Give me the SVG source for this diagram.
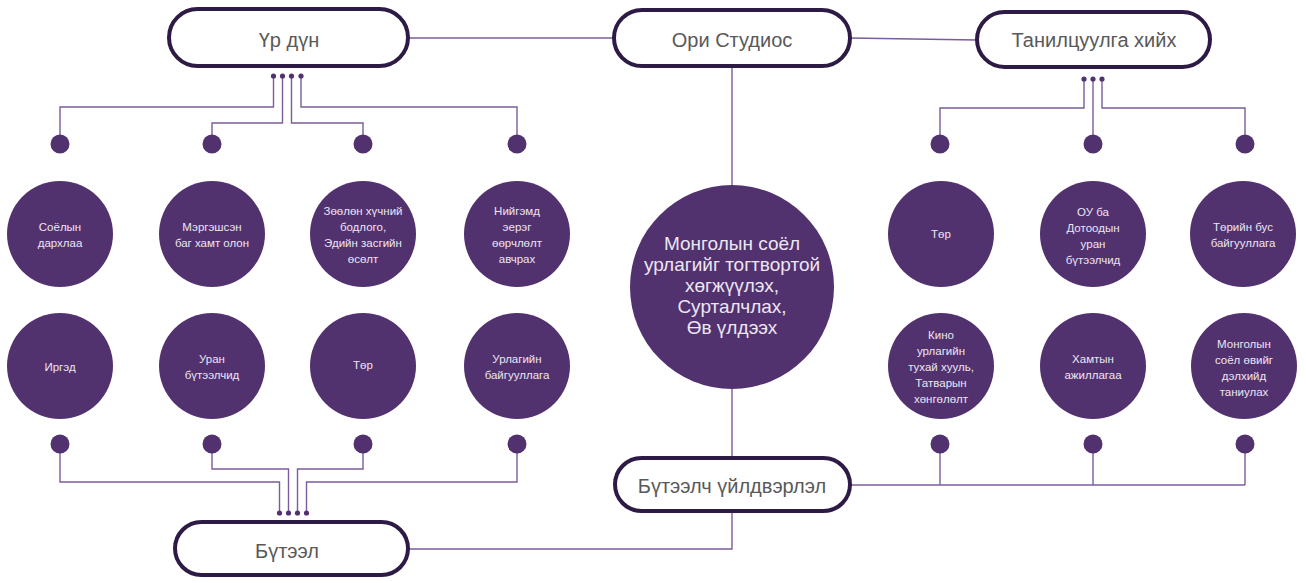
<svg xmlns="http://www.w3.org/2000/svg" width="1306" height="583" viewBox="0 0 1306 583">
<style>
.pill{fill:#fff;stroke:#2d1b45;stroke-width:4}
.pt{font-family:"Liberation Sans",Arial,sans-serif;font-size:20px;fill:#595959;text-anchor:middle;dominant-baseline:central}
.c{fill:#52316f}
.ct{font-family:"Liberation Sans",Arial,sans-serif;font-size:11.5px;fill:#ece6f2;text-anchor:middle;dominant-baseline:central}
.big{font-family:"Liberation Sans",Arial,sans-serif;font-size:19px;fill:#ece6f2;text-anchor:middle;dominant-baseline:central}
.ln{fill:none;stroke:#7b5c9c;stroke-width:1.4}
.d{fill:#52316f}
</style>
<rect width="1306" height="583" fill="#fff"/>
<g id="connectors">
<line class="ln" x1="408" y1="38" x2="614" y2="38"/>
<line class="ln" x1="850" y1="38" x2="977" y2="40"/>
<line class="ln" x1="732" y1="66" x2="732" y2="186"/>
<line class="ln" x1="732" y1="388" x2="732" y2="458"/>
<polyline class="ln" points="732,511 732,549 408,549"/>
<line class="ln" x1="850" y1="485" x2="1245" y2="485"/>
<line class="ln" x1="940" y1="444" x2="940" y2="485"/>
<line class="ln" x1="1093" y1="444" x2="1093" y2="485"/>
<line class="ln" x1="1245" y1="444" x2="1245" y2="485"/>
<!-- Үр дүн -->
<polyline class="ln" points="273.5,76 273.5,107 60,107 60,144"/>
<polyline class="ln" points="282.5,76 282.5,123 212,123 212,144"/>
<polyline class="ln" points="291.5,76 291.5,123 363,123 363,144"/>
<polyline class="ln" points="301,76 301,107 517,107 517,144"/>
<!-- Танилцуулга -->
<polyline class="ln" points="1084,79 1084,108 940,108 940,144"/>
<line class="ln" x1="1093" y1="79" x2="1093" y2="144"/>
<polyline class="ln" points="1102,79 1102,108 1245,108 1245,144"/>
<!-- Бүтээл -->
<polyline class="ln" points="279.5,513 279.5,482 60,482 60,444"/>
<polyline class="ln" points="288.5,513 288.5,469 212,469 212,444"/>
<polyline class="ln" points="297.5,513 297.5,469 363,469 363,444"/>
<polyline class="ln" points="306.5,513 306.5,482 517,482 517,444"/>
<!-- small dots -->
<circle class="d" cx="273.5" cy="76" r="2.6"/>
<circle class="d" cx="282.5" cy="76" r="2.6"/>
<circle class="d" cx="291.5" cy="76" r="2.6"/>
<circle class="d" cx="301" cy="76" r="2.6"/>
<circle class="d" cx="1084" cy="79" r="2.6"/>
<circle class="d" cx="1093" cy="79" r="2.6"/>
<circle class="d" cx="1102" cy="79" r="2.6"/>
<circle class="d" cx="279.5" cy="513" r="2.6"/>
<circle class="d" cx="288.5" cy="513" r="2.6"/>
<circle class="d" cx="297.5" cy="513" r="2.6"/>
<circle class="d" cx="306.5" cy="513" r="2.6"/>
<!-- big dots -->
<circle class="d" cx="60" cy="144" r="9.5"/>
<circle class="d" cx="212" cy="144" r="9.5"/>
<circle class="d" cx="363" cy="144" r="9.5"/>
<circle class="d" cx="517" cy="144" r="9.5"/>
<circle class="d" cx="940" cy="144" r="9.5"/>
<circle class="d" cx="1093" cy="144" r="9.5"/>
<circle class="d" cx="1245" cy="144" r="9.5"/>
<circle class="d" cx="60" cy="444" r="9.5"/>
<circle class="d" cx="212" cy="444" r="9.5"/>
<circle class="d" cx="363" cy="444" r="9.5"/>
<circle class="d" cx="517" cy="444" r="9.5"/>
<circle class="d" cx="940" cy="444" r="9.5"/>
<circle class="d" cx="1093" cy="444" r="9.5"/>
<circle class="d" cx="1245" cy="444" r="9.5"/>
</g>
<g id="ur-dun"><rect class="pill" x="169" y="9" width="239" height="57" rx="28.5"/><text class="pt" x="289" y="40">Үр дүн</text></g>
<g id="ori-studios"><rect class="pill" x="614" y="10" width="236" height="56" rx="28"/><text class="pt" x="732" y="40">Ори Студиос</text></g>
<g id="taniltsuulga"><rect class="pill" x="977" y="12" width="233" height="55" rx="27.5"/><text class="pt" x="1094" y="40">Танилцуулга хийх</text></g>
<g id="buteel"><rect class="pill" x="175" y="522" width="233" height="53" rx="26.5"/><text class="pt" x="287" y="551">Бүтээл</text></g>
<g id="buteelch"><rect class="pill" x="615" y="458" width="235" height="53" rx="26.5"/><text class="pt" x="732" y="486">Бүтээлч үйлдвэрлэл</text></g>
<g id="center"><circle class="c" cx="732" cy="287" r="102"/>
<text class="big" x="732"><tspan x="732" y="243">Монголын соёл</tspan><tspan x="732" y="264">урлагийг тогтвортой</tspan><tspan x="732" y="285">хөгжүүлэх,</tspan><tspan x="732" y="306">Сурталчлах,</tspan><tspan x="732" y="327">Өв үлдээх</tspan></text></g>
<g id="n-soyolyn"><circle class="c" cx="60" cy="234" r="53"/><text class="ct"><tspan x="60" y="227">Соёлын</tspan><tspan x="60" y="243">дархлаа</tspan></text></g>
<g id="n-mergeshsen"><circle class="c" cx="212" cy="234" r="53"/><text class="ct"><tspan x="212" y="227">Мэргэшсэн</tspan><tspan x="212" y="243">баг хамт олон</tspan></text></g>
<g id="n-zoolon"><circle class="c" cx="363" cy="234" r="53"/><text class="ct"><tspan x="363" y="211">Зөөлөн хүчний</tspan><tspan x="363" y="227">бодлого,</tspan><tspan x="363" y="243">Эдийн засгийн</tspan><tspan x="363" y="259">өсөлт</tspan></text></g>
<g id="n-niigemd"><circle class="c" cx="517" cy="234" r="53"/><text class="ct"><tspan x="517" y="211">Нийгэмд</tspan><tspan x="517" y="227">эерэг</tspan><tspan x="517" y="243">өөрчлөлт</tspan><tspan x="517" y="259">авчрах</tspan></text></g>
<g id="n-irged"><circle class="c" cx="60" cy="366" r="53"/><text class="ct" x="60" y="367">Иргэд</text></g>
<g id="n-uran"><circle class="c" cx="212" cy="366" r="53"/><text class="ct"><tspan x="212" y="359">Уран</tspan><tspan x="212" y="375">бүтээлчид</tspan></text></g>
<g id="n-tor-left"><circle class="c" cx="363" cy="366" r="53"/><text class="ct" x="363" y="365">Төр</text></g>
<g id="n-urlagiin"><circle class="c" cx="517" cy="366" r="53"/><text class="ct"><tspan x="517" y="359">Урлагийн</tspan><tspan x="517" y="375">байгууллага</tspan></text></g>
<g id="n-tor-right"><circle class="c" cx="941" cy="234" r="53"/><text class="ct" x="941" y="234">Төр</text></g>
<g id="n-ou"><circle class="c" cx="1093" cy="234" r="53"/><text class="ct"><tspan x="1093" y="212">ОУ ба</tspan><tspan x="1093" y="228">Дотоодын</tspan><tspan x="1093" y="244">уран</tspan><tspan x="1093" y="260">бүтээлчид</tspan></text></g>
<g id="n-toriin-bus"><circle class="c" cx="1243" cy="234" r="53"/><text class="ct"><tspan x="1243" y="227">Төрийн бус</tspan><tspan x="1243" y="243">байгууллага</tspan></text></g>
<g id="n-kino"><circle class="c" cx="941" cy="366" r="53"/><text class="ct"><tspan x="941" y="335">Кино</tspan><tspan x="941" y="351">урлагийн</tspan><tspan x="941" y="367">тухай хууль,</tspan><tspan x="941" y="383">Татварын</tspan><tspan x="941" y="399">хөнгөлөлт</tspan></text></g>
<g id="n-hamtyn"><circle class="c" cx="1093" cy="366" r="53"/><text class="ct"><tspan x="1093" y="359">Хамтын</tspan><tspan x="1093" y="375">ажиллагаа</tspan></text></g>
<g id="n-mongolyn"><circle class="c" cx="1244" cy="366" r="53"/><text class="ct"><tspan x="1244" y="344">Монголын</tspan><tspan x="1244" y="360">соёл өвийг</tspan><tspan x="1244" y="376">дэлхийд</tspan><tspan x="1244" y="392">таниулах</tspan></text></g>
</svg>
